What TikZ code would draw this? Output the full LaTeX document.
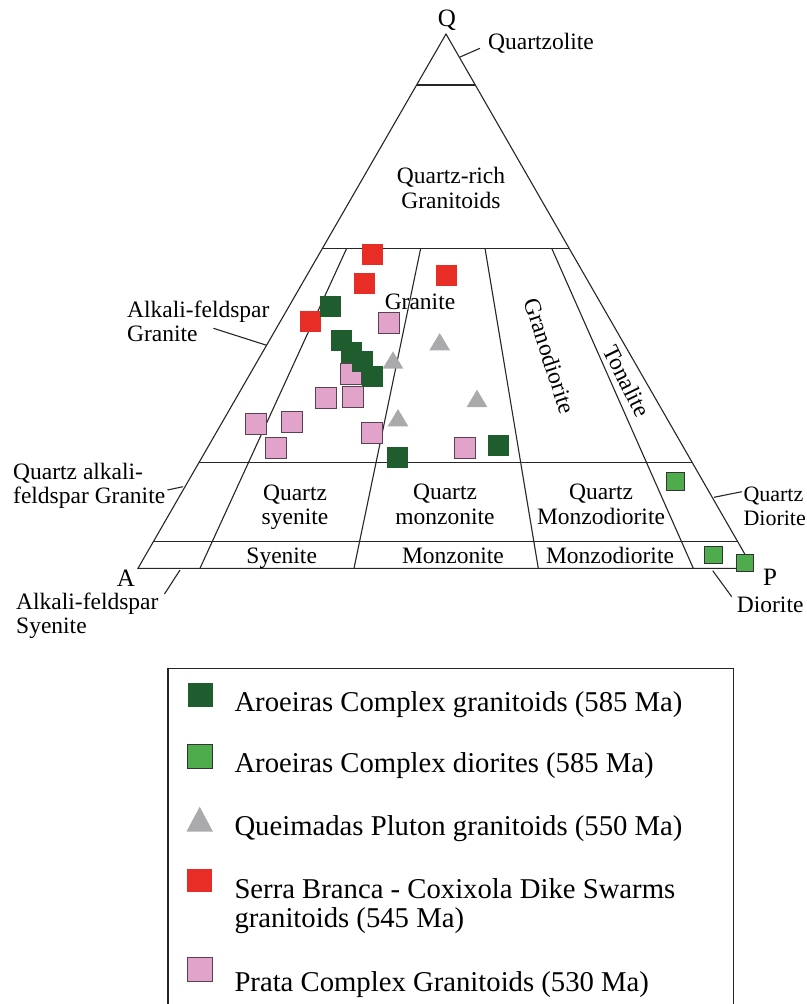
\documentclass[tikz,border=0pt]{standalone}
\usepackage{fontspec}
\setmainfont{Liberation Serif}
\usetikzlibrary{calc}
\definecolor{agran}{RGB}{31,92,46}
\definecolor{adior}{RGB}{78,172,76}
\definecolor{qgray}{RGB}{170,170,172}
\definecolor{sred}{RGB}{232,44,38}
\definecolor{ppink}{RGB}{226,163,202}
\tikzset{
  edge/.style={draw=black!85, line width=1.1pt},
  lead/.style={draw=black!85, line width=1.1pt},
  lbl/.style={font=\fontsize{23.5}{24.5}\selectfont, inner sep=0pt, align=center},
  corner/.style={font=\fontsize{25}{27}\selectfont, inner sep=0pt},
  legtxt/.style={font=\fontsize{28.7}{29}\selectfont, inner sep=0pt, anchor=base west, align=left},
  gransq/.style={fill=agran},
  diorsq/.style={fill=adior, draw=black!80, line width=0.8pt},
  redsq/.style={fill=sred},
  pinksq/.style={fill=ppink, draw=black!60!ppink, line width=0.8pt},
  tri/.style={fill=qgray}
}

\begin{document}
\begin{tikzpicture}[x=1pt, y=-1pt]
  \useasboundingbox (0,0) rectangle (806,1004);
  % corners of the QAP triangle
  \coordinate (A) at (138,568.3);
  \coordinate (P) at (753,568.3);
  \coordinate (Q) at (446,34);
  \draw[edge] (A) -- (Q) -- (P) -- cycle;
  % Q = 90, 60, 20, 5
  \foreach \t in {0.0955, 0.401, 0.8024, 0.95} {
    \draw[edge] ($(Q)!\t!(A)$) -- ($(Q)!\t!(P)$);
  }
  % P/(A+P) = 10, 35, 65, 90
  \foreach \xt/\xb in {346.7/200, 420.7/354, 485/538.3, 551.7/693.3} {
    \draw[edge] (\xt,248.3) -- (\xb,568.3);
  }

  % corner letters
  \node[corner] (qlab) at (447,20) {Q};
  \node[corner] (alab) at (126,578.3) {A};
  \node[corner] (plab) at (770,577) {P};

  % field names inside
  \node[lbl] (qrich) at (451,188) {Quartz-rich\\Granitoids};
  \node[lbl] (gran) at (420,301.7) {Granite};
  \node[lbl, rotate=-72] (grdio) at (550,356) {Granodiorite};
  \node[lbl, rotate=-64] (tona) at (627,381) {Tonalite};
  \node[lbl, anchor=base] (qsye) at (295,524.5) {Quartz\\syenite};
  \node[lbl, anchor=base] (qmon) at (445,524) {Quartz\\monzonite};
  \node[lbl, anchor=base] (qmzd) at (601,524) {Quartz\\Monzodiorite};
  \node[lbl, anchor=base] (sye) at (281.7,563) {Syenite};
  \node[lbl, anchor=base] (mon) at (453,563) {Monzonite};
  \node[lbl, anchor=base] (mzd) at (610,563) {Monzodiorite};

  % field names outside, with leaders
  \node[lbl, anchor=west] (qzol) at (488,43) {Quartzolite};
  \node[lbl, anchor=west, align=left] (afgr) at (127,321.5) {Alkali-feldspar\\Granite};
  \node[lbl, anchor=west, align=left] (qafg) at (13,485.8) {Quartz alkali-\\feldspar Granite};
  \node[lbl, anchor=west, align=left] (afsy) at (16,616) {Alkali-feldspar\\Syenite};
  \node[lbl, anchor=west, align=left, font=\fontsize{22}{23.5}\selectfont] (qdio) at (743.3,506.5) {Quartz\\Diorite};
  \node[lbl, anchor=west] (dio) at (736.7,605) {Diorite};
  \coordinate (qzolA) at (460,57);    \coordinate (qzolB) at (480,48.3);
  \coordinate (afgrA) at (213.4,328.3); \coordinate (afgrB) at (266.7,345.3);
  \coordinate (qafgA) at (167.5,490); \coordinate (qafgB) at (183,486.7);
  \coordinate (afsyA) at (180,570);   \coordinate (afsyB) at (164.5,594);
  \coordinate (qdioA) at (714,497.3); \coordinate (qdioB) at (741.7,491.7);
  \coordinate (dioA) at (712.7,570.7); \coordinate (dioB) at (731.7,596.7);
  \foreach \n in {qzol, afgr, qafg, afsy, qdio, dio} {
    \draw[lead] (\n A) -- (\n B);
  }

  % Serra Branca - Coxixola
  \foreach \x/\y in {372.5/254.3, 364.5/283.5, 446.3/275, 310.8/321.3} {
    \path[redsq] (\x-10.5,\y-10.5) rectangle ++(21,21);
  }
  % Prata
  \foreach \x/\y in {388.7/322.5, 351.3/374.2, 326.3/398.3, 353/396.7, 256.2/424.3,
                     291.7/421.8, 276.2/447.7, 372.2/432.5, 465/447.7} {
    \path[pinksq] (\x-10.5,\y-10.5) rectangle ++(21,21);
  }
  % Queimadas (apex given)
  \foreach \x/\y in {439.7/333, 393/351.3, 477/389.7, 398/409} {
    \path[tri] (\x,\y) -- ++(10.3,17.3) -- ++(-20.6,0) -- cycle;
  }
  % Aroeiras granitoids
  \foreach \x/\y in {330.5/306.8, 341.2/340.2, 351.7/352.7, 362/361.3, 372.3/376,
                     397.5/457.7, 498.3/445} {
    \path[gransq] (\x-10.5,\y-10.5) rectangle ++(21,21);
  }
  % Aroeiras diorites
  \foreach \x/\y in {675.3/481.2, 713.3/554.7, 744.7/563} {
    \path[diorsq] (\x-8.7,\y-8.7) rectangle ++(17.4,17.4);
  }

  % Legend
  \draw[edge, line width=1.4pt] (168,1004) -- (168,668.3) -- (733.3,668.3) -- (733.3,1004);
  \path[gransq] (188.3,683.3) rectangle (213.2,706.7);
  \path[diorsq] (187.5,744.5) rectangle (212.5,768.5);
  \path[tri] (199.7,806.7) -- (213,831.7) -- (186.4,831.7) -- cycle;
  \path[redsq] (187,868.7) rectangle (212,892.3);
  \path[pinksq] (187.5,957.7) rectangle (212.5,981.7);
  \node[legtxt] (leg1) at (234.3,711.7) {Aroeiras Complex granitoids (585 Ma)};
  \node[legtxt] (leg2) at (234.3,772.5) {Aroeiras Complex diorites (585 Ma)};
  \node[legtxt] (leg3) at (234.3,835) {Queimadas Pluton granitoids (550 Ma)};
  \node[legtxt] (leg4) at (234.3,927.3) {Serra Branca - Coxixola Dike Swarms\\granitoids (545 Ma)};
  \node[legtxt] (leg5) at (234.3,991.7) {Prata Complex Granitoids (530 Ma)};
\end{tikzpicture}
\end{document}
